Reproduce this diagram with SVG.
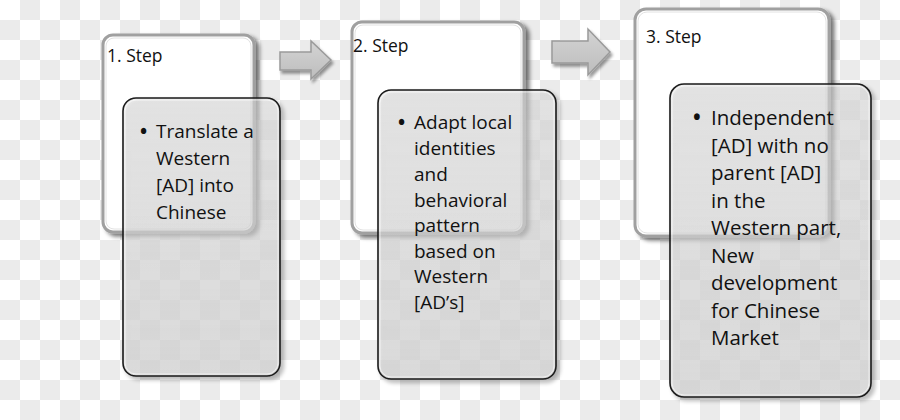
<svg xmlns="http://www.w3.org/2000/svg" width="900" height="420" viewBox="0 0 900 420">
<defs>
  <pattern id="checker" width="40" height="40" patternUnits="userSpaceOnUse">
    <rect width="40" height="40" fill="#ffffff"/>
    <rect x="20" y="0" width="20" height="20" fill="#ebebeb"/>
    <rect x="0" y="20" width="20" height="20" fill="#ebebeb"/>
  </pattern>
  <linearGradient id="frontFill" x1="0" y1="0" x2="0" y2="1">
    <stop offset="0" stop-color="#e0e0e0" stop-opacity="0.55"/>
    <stop offset="1" stop-color="#d8d8d8" stop-opacity="0.7"/>
  </linearGradient>
  <linearGradient id="arrowFill" x1="0" y1="0" x2="0" y2="1">
    <stop offset="0" stop-color="#d4d4d4"/>
    <stop offset="1" stop-color="#bdbdbd"/>
  </linearGradient>
  <filter id="backShadow" x="-10%" y="-10%" width="130%" height="130%">
    <feGaussianBlur in="SourceAlpha" stdDeviation="2"/>
    <feOffset dx="4" dy="3" result="b"/>
    <feComponentTransfer><feFuncA type="linear" slope="0.55"/></feComponentTransfer>
    <feMerge><feMergeNode/><feMergeNode in="SourceGraphic"/></feMerge>
  </filter>
  <filter id="frontShadow" x="-10%" y="-10%" width="130%" height="130%">
    <feGaussianBlur in="SourceAlpha" stdDeviation="2"/>
    <feOffset dx="3" dy="3"/>
    <feComponentTransfer><feFuncA type="linear" slope="0.35"/></feComponentTransfer>
    <feMerge><feMergeNode/><feMergeNode in="SourceGraphic"/></feMerge>
  </filter>
  <filter id="arrowShadow" x="-20%" y="-20%" width="150%" height="150%">
    <feGaussianBlur in="SourceAlpha" stdDeviation="1.5"/>
    <feOffset dx="2" dy="3"/>
    <feComponentTransfer><feFuncA type="linear" slope="0.4"/></feComponentTransfer>
    <feMerge><feMergeNode/><feMergeNode in="SourceGraphic"/></feMerge>
  </filter>
</defs>
<style>
  .back { fill: #ffffff; stroke: #a0a0a0; stroke-width: 3; }
  .backInner { fill: none; stroke: #e2e2e2; stroke-width: 1; }
  .front { fill: url(#frontFill); stroke: #1c1c1c; stroke-width: 1.6; }
  .frontInner { fill: none; stroke: #ffffff; stroke-opacity: 0.6; stroke-width: 1; }
  .arrow { fill: url(#arrowFill); stroke: #9a9a9a; stroke-width: 1.5; stroke-linejoin: miter; }
  .step { font-family: "Open Sans", "Liberation Sans", sans-serif; font-size: 17.5px; fill: #111111; }
  .body { font-family: "Open Sans", "Liberation Sans", sans-serif; font-size: 19px; fill: #111111; }
  .body3 { font-family: "Open Sans", "Liberation Sans", sans-serif; font-size: 20.5px; fill: #111111; }
</style>

<rect width="900" height="420" fill="url(#checker)"/>

<g id="connectors">
  <polygon class="arrow" filter="url(#arrowShadow)" points="280,52 311,52 311,41 331,60 311,79 311,70 280,70"/>
  <polygon class="arrow" filter="url(#arrowShadow)" points="552,41 588,41 588,29 610,52 588,75 588,63 552,63"/>
</g>

<g id="step1">
  <rect class="back" filter="url(#backShadow)" x="103" y="35" width="151" height="197" rx="10"/>
  <rect class="backInner" x="106" y="38" width="145" height="191" rx="8"/>
  <text class="step" x="107" y="62">1.  Step</text>
  <rect class="front" filter="url(#frontShadow)" x="123" y="98" width="157" height="278" rx="13"/>
  <rect class="frontInner" x="125" y="100" width="153" height="274" rx="11"/>
  <text class="body" x="140" y="138" font-weight="bold">•</text>
  <text class="body" x="156" y="138">Translate a</text>
  <text class="body" x="156" y="165">Western</text>
  <text class="body" x="156" y="192">[AD] into</text>
  <text class="body" x="156" y="219">Chinese</text>
</g>

<g id="step2">
  <rect class="back" filter="url(#backShadow)" x="352" y="22" width="172" height="211" rx="10"/>
  <rect class="backInner" x="355" y="25" width="166" height="205" rx="8"/>
  <text class="step" x="353" y="52">2. Step</text>
  <rect class="front" filter="url(#frontShadow)" x="378" y="90" width="178" height="289" rx="13"/>
  <rect class="frontInner" x="380" y="92" width="174" height="285" rx="11"/>
  <text class="body" x="398" y="129" font-weight="bold">•</text>
  <text class="body" x="414" y="129">Adapt local</text>
  <text class="body" x="414" y="155">identities</text>
  <text class="body" x="414" y="181">and</text>
  <text class="body" x="414" y="207">behavioral</text>
  <text class="body" x="414" y="232">pattern</text>
  <text class="body" x="414" y="258">based on</text>
  <text class="body" x="414" y="283">Western</text>
  <text class="body" x="414" y="309">[AD’s]</text>
</g>

<g id="step3">
  <rect class="back" filter="url(#backShadow)" x="635" y="9" width="194" height="227" rx="11"/>
  <rect class="backInner" x="638" y="12" width="188" height="221" rx="9"/>
  <text class="step" x="646" y="43">3. Step</text>
  <rect class="front" filter="url(#frontShadow)" x="670" y="84" width="201" height="313" rx="14"/>
  <rect class="frontInner" x="672" y="86" width="197" height="309" rx="12"/>
  <text class="body3" x="693" y="125" font-weight="bold">•</text>
  <text class="body3" x="711" y="125">Independent</text>
  <text class="body3" x="711" y="153">[AD] with no</text>
  <text class="body3" x="711" y="180">parent [AD]</text>
  <text class="body3" x="711" y="208">in the</text>
  <text class="body3" x="711" y="235">Western part,</text>
  <text class="body3" x="711" y="263">New</text>
  <text class="body3" x="711" y="290">development</text>
  <text class="body3" x="711" y="318">for Chinese</text>
  <text class="body3" x="711" y="345">Market</text>
</g>
</svg>
